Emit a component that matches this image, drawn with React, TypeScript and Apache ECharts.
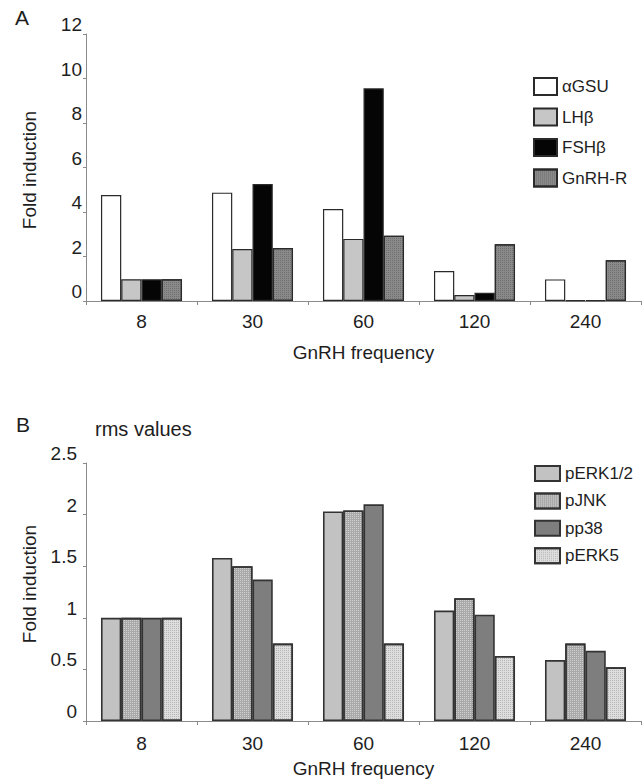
import React, { useEffect, useRef } from "react";
import * as echarts from "echarts";

const categories = ["8", "30", "60", "120", "240"];

// Panel A – fold induction of gonadotropin subunit genes
const aGSU = [4.76, 4.87, 4.13, 1.35, 0.97];
const LHb = [0.98, 2.34, 2.79, 0.27, 0.03];
const FSHb = [0.98, 5.26, 9.56, 0.37, 0.03];
const GnRHR = [0.98, 2.38, 2.93, 2.55, 1.83];

// Panel B – rms values
const pERK12 = [1.0, 1.58, 2.03, 1.07, 0.59];
const pJNK = [1.0, 1.5, 2.04, 1.19, 0.75];
const pp38 = [1.0, 1.37, 2.1, 1.03, 0.68];
const pERK5 = [1.0, 0.75, 0.75, 0.63, 0.52];

const legendA = ["αGSU", "LHβ", "FSHβ", "GnRH-R"];
const legendB = ["pERK1/2", "pJNK", "pp38", "pERK5"];

const FONT = "Arial, 'Liberation Sans', Helvetica, sans-serif";
const TXT = "#1e1e1e";
const AX = "#8a8a8a";

const dots = (color: string) => ({
  symbol: "rect",
  symbolSize: 1,
  dashArrayX: [1, 1],
  dashArrayY: [1, 1],
  color,
});

export default function App() {
  const ref = useRef<HTMLDivElement>(null);
  useEffect(() => {
    if (!ref.current) return;
    const chart = echarts.init(ref.current, undefined, { renderer: "svg" });

    const xAxisBase = (gridIndex: number, nameGap: number, labelMargin: number) => ({
      type: "category",
      gridIndex,
      data: categories,
      boundaryGap: true,
      name: "GnRH frequency",
      nameLocation: "middle",
      nameGap,
      nameTextStyle: { fontSize: 19, color: TXT, fontFamily: FONT },
      axisLine: { lineStyle: { color: AX, width: 1 } },
      axisTick: { show: true, length: 4, lineStyle: { color: AX } },
      axisLabel: { fontSize: 19, color: TXT, fontFamily: FONT, margin: labelMargin },
      splitLine: { show: false },
    });

    const yAxisBase = (
      gridIndex: number,
      max: number,
      interval: number,
      margin: number,
      namePad: number[]
    ) => ({
      type: "value",
      gridIndex,
      min: 0,
      max,
      interval,
      name: "Fold induction",
      nameLocation: "middle",
      nameGap: 47,
      nameTextStyle: { fontSize: 19, color: TXT, fontFamily: FONT, padding: namePad },
      axisLine: { show: true, lineStyle: { color: AX, width: 1 } },
      axisTick: { show: true, length: 3, lineStyle: { color: AX } },
      axisLabel: {
        fontSize: 19,
        color: TXT,
        fontFamily: FONT,
        margin,
        verticalAlign: "bottom",
        lineHeight: 19,
      },
      splitLine: { show: false },
    });

    const barA = (name: string, data: number[], color: string, decal?: any) => ({
      type: "bar",
      name,
      xAxisIndex: 0,
      yAxisIndex: 0,
      data,
      barGap: "0%",
      barCategoryGap: "27%",
      itemStyle: { color, borderColor: "#2a2a2a", borderWidth: 1.2, ...(decal ? { decal } : {}) },
    });
    const barB = (name: string, data: number[], color: string, decal?: any) => ({
      type: "bar",
      name,
      xAxisIndex: 1,
      yAxisIndex: 1,
      data,
      barGap: "0%",
      barCategoryGap: "27%",
      itemStyle: { color, borderColor: "#333333", borderWidth: 1.6, ...(decal ? { decal } : {}) },
    });

    chart.setOption({
      animation: false,
      backgroundColor: "#ffffff",
      grid: [
        { left: 86, right: 2, top: 34, height: 267, containLabel: false },
        { left: 86, right: 2, top: 463, height: 258, containLabel: false },
      ],
      xAxis: [xAxisBase(0, 42, 11), xAxisBase(1, 38, 13)],
      yAxis: [
        yAxisBase(0, 12, 2, 4, [0, 5, 0, 0]),
        yAxisBase(1, 2.5, 0.5, 9, [0, 0, 0, 16]),
      ],
      legend: [
        {
          data: legendA,
          orient: "vertical",
          left: 533,
          top: 77,
          itemWidth: 23,
          itemHeight: 17,
          itemGap: 11.5,
          icon: "rect",
          textStyle: { fontSize: 17, color: TXT, fontFamily: FONT, lineHeight: 17 },
          selectedMode: false,
          padding: 0,
        },
        {
          data: legendB,
          orient: "vertical",
          left: 534,
          top: 465,
          itemWidth: 25,
          itemHeight: 15,
          itemGap: 10.4,
          icon: "rect",
          textStyle: { fontSize: 17, color: TXT, fontFamily: FONT, lineHeight: 17 },
          selectedMode: false,
          padding: 0,
        },
      ],
      series: [
        barA("αGSU", aGSU, "#ffffff"),
        barA("LHβ", LHb, "#c6c6c6"),
        barA("FSHβ", FSHb, "#050505"),
        barA("GnRH-R", GnRHR, "#8a8a8a", dots("rgba(60,60,60,0.35)")),
        barB("pERK1/2", pERK12, "#c2c2c2"),
        barB("pJNK", pJNK, "#a9a9a9", dots("rgba(255,255,255,0.45)")),
        barB("pp38", pp38, "#7e7e7e"),
        barB("pERK5", pERK5, "#dedede", dots("rgba(140,140,140,0.5)")),
      ],
      graphic: [
        {
          type: "text",
          left: 15,
          top: 7,
          style: { text: "A", fontSize: 21, fontFamily: FONT, fill: TXT },
        },
        {
          type: "text",
          left: 16,
          top: 414,
          style: { text: "B", fontSize: 21, fontFamily: FONT, fill: TXT },
        },
        {
          type: "text",
          left: 95,
          top: 419,
          style: { text: "rms values", fontSize: 20, fontFamily: FONT, fill: TXT },
        },
      ],
    });
    return () => chart.dispose();
  }, []);

  return (
    <div
      ref={ref}
      style={{ position: "absolute", left: 0, top: 0, width: 643, height: 782, background: "#fff" }}
    />
  );
}
